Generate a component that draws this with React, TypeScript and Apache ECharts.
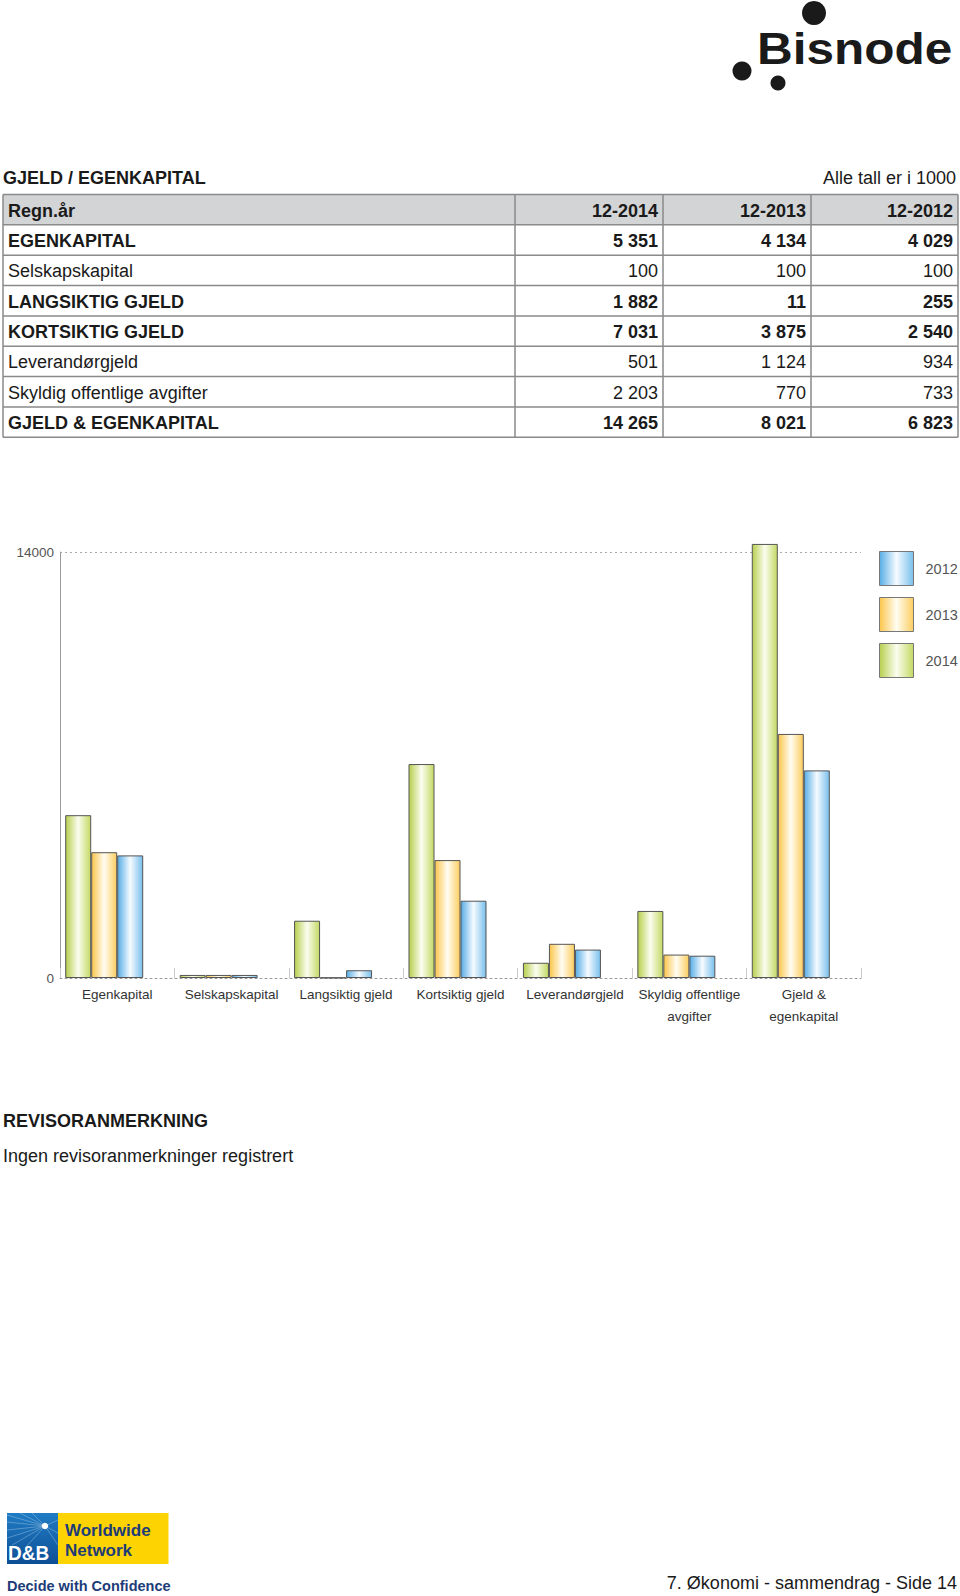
import React, { useEffect, useRef } from 'react';
import * as echarts from 'echarts';

// ---------- data ----------
const categories = [
  'Egenkapital',
  'Selskapskapital',
  'Langsiktig gjeld',
  'Kortsiktig gjeld',
  'Leverandørgjeld',
  'Skyldig offentlige\navgifter',
  'Gjeld &\negenkapital',
];
const tableRows = [
  'EGENKAPITAL',
  'Selskapskapital',
  'LANGSIKTIG GJELD',
  'KORTSIKTIG GJELD',
  'Leverandørgjeld',
  'Skyldig offentlige avgifter',
  'GJELD & EGENKAPITAL',
];
const tableRowBold = [true, false, true, true, false, false, true];
const tableYears = ['12-2014', '12-2013', '12-2012'];
const values2014 = [5351, 100, 1882, 7031, 501, 2203, 14265];
const values2013 = [4134, 100, 11, 3875, 1124, 770, 8021];
const values2012 = [4029, 100, 255, 2540, 934, 733, 6823];
const legendNames = ['2012', '2013', '2014'];
const yMin = 0;
const yMax = 14000;

const FONT = '"Liberation Sans", Arial, Helvetica, sans-serif';
const TS = 18;

const fmt = (n: number) => String(n).replace(/\B(?=(\d{3})+(?!\d))/g, ' ');

const grad = (edgeL: string, mid: string, edgeR: string) =>
  new echarts.graphic.LinearGradient(0, 0, 1, 0, [
    { offset: 0, color: edgeL },
    { offset: 0.5, color: mid },
    { offset: 1, color: edgeR },
  ]);

function txt(text: string, x: number, y: number, size: number, opts: any = {}) {
  return {
    type: 'text',
    x,
    y,
    silent: true,
    style: {
      text,
      fill: opts.fill || '#1a1a1a',
      fontSize: size,
      fontWeight: opts.bold ? 'bold' : 'normal',
      fontFamily: FONT,
      align: opts.align || 'left',
      textAlign: opts.align || 'left',
      verticalAlign: 'middle',
      textVerticalAlign: 'middle',
    },
    ...(opts.extra || {}),
  };
}

function buildGraphics() {
  const els: any[] = [];
  // Bisnode logo
  els.push({ type: 'circle', shape: { cx: 814, cy: 13, r: 12 }, style: { fill: '#1a1a1a' } });
  els.push({ type: 'circle', shape: { cx: 742, cy: 71, r: 9.5 }, style: { fill: '#1a1a1a' } });
  els.push({ type: 'circle', shape: { cx: 778, cy: 83, r: 7.5 }, style: { fill: '#1a1a1a' } });
  els.push(txt('Bisnode', 757, 48, 45, { bold: true, extra: { scaleX: 1.1 } }));

  // title
  els.push(txt('GJELD / EGENKAPITAL', 3, 178, TS, { bold: true }));
  els.push(txt('Alle tall er i 1000', 956, 178, TS, { align: 'right' }));

  // table
  const colX = [3, 515, 663, 811, 958];
  const top = 194.5;
  const rowH = 30.35;
  const nRows = tableRows.length + 1;
  const bottom = top + rowH * nRows;
  els.push({
    type: 'rect',
    shape: { x: colX[0], y: top, width: colX[4] - colX[0], height: rowH },
    style: { fill: '#d3d4d6' },
  });
  for (let r = 0; r <= nRows; r++) {
    const y = top + rowH * r;
    els.push({
      type: 'line',
      shape: { x1: colX[0], y1: y, x2: colX[4], y2: y },
      style: { stroke: '#8a8a8a', lineWidth: 1.5 },
    });
  }
  colX.forEach((x) => {
    els.push({
      type: 'line',
      shape: { x1: x, y1: top, x2: x, y2: bottom },
      style: { stroke: '#8a8a8a', lineWidth: 1.5 },
    });
  });
  const hy = top + rowH / 2 + 1;
  els.push(txt('Regn.år', 8, hy, TS, { bold: true }));
  tableYears.forEach((yr, i) => {
    els.push(txt(yr, colX[i + 2] - 5, hy, TS, { bold: true, align: 'right' }));
  });
  const cols = [values2014, values2013, values2012];
  tableRows.forEach((label, r) => {
    const y = top + rowH * (r + 1) + rowH / 2 + 1;
    const bold = tableRowBold[r];
    els.push(txt(label, 8, y, TS, { bold }));
    cols.forEach((vals, c) => {
      els.push(txt(fmt(vals[r]), colX[c + 2] - 5, y, TS, { bold, align: 'right' }));
    });
  });

  // auditor remark
  els.push(txt('REVISORANMERKNING', 3, 1121, TS, { bold: true }));
  els.push(txt('Ingen revisoranmerkninger registrert', 3, 1155.5, TS));

  // footer
  els.push(txt('7. Økonomi - sammendrag - Side 14', 957, 1583, TS, { align: 'right' }));

  // D&B logo
  els.push({
    type: 'rect',
    shape: { x: 7, y: 1513, width: 51, height: 51 },
    style: {
      fill: new echarts.graphic.LinearGradient(0, 0, 0, 1, [
        { offset: 0, color: '#1f7cc4' },
        { offset: 1, color: '#0d4f96' },
      ]),
    },
  });
  const cx = 45;
  const cy = 1526;
  const rays = [
    [7, 1515], [7, 1522], [7, 1530], [7, 1538], [20, 1513], [32, 1513],
    [58, 1520], [58, 1533], [12, 1545], [25, 1548], [58, 1545],
  ];
  rays.forEach(([x, y]) => {
    els.push({
      type: 'line',
      shape: { x1: cx, y1: cy, x2: x, y2: y },
      style: { stroke: 'rgba(255,255,255,0.35)', lineWidth: 0.8 },
    });
  });
  els.push({ type: 'circle', shape: { cx, cy, r: 3.2 }, style: { fill: '#ffffff' } });
  els.push(txt('D&B', 8, 1553, 20, { bold: true, fill: '#ffffff', extra: { scaleX: 0.95 } }));
  els.push({
    type: 'rect',
    shape: { x: 58, y: 1513, width: 110.5, height: 51 },
    style: { fill: '#fed302' },
  });
  els.push(txt('Worldwide', 65, 1530, 17, { bold: true, fill: '#1d3c78' }));
  els.push(txt('Network', 65, 1550, 17, { bold: true, fill: '#1d3c78' }));
  els.push(txt('Decide with Confidence', 7, 1586, 14.5, { bold: true, fill: '#1d3c78' }));

  return els;
}

const barStyles: Record<string, any> = {
  '2014': { l: '#b6cf4c', m: '#fbfdf0', r: '#c3d963' },
  '2013': { l: '#fbc54a', m: '#fffdf2', r: '#fccd5f' },
  '2012': { l: '#56ade6', m: '#f6fbff', r: '#78bfec' },
};

export default function App() {
  const ref = useRef<HTMLDivElement>(null);
  useEffect(() => {
    if (!ref.current) return;
    const chart = echarts.init(ref.current, undefined, { renderer: 'svg' });
    const mkSeries = (name: string, data: number[]) => ({
      name,
      type: 'bar',
      data,
      barWidth: 26,
      barGap: '0%',
      clip: false,
      itemStyle: {
        color: grad(barStyles[name].l, barStyles[name].m, barStyles[name].r),
        borderColor: '#555555',
        borderWidth: 1,
      },
      emphasis: { disabled: true },
    });
    chart.setOption({
      animation: false,
      textStyle: { fontFamily: FONT },
      grid: { left: 60, top: 552, width: 801, height: 426, containLabel: false },
      legend: {
        data: legendNames,
        orient: 'vertical',
        left: 874,
        top: 546,
        itemWidth: 34,
        itemHeight: 34,
        itemGap: 11,
        icon: 'rect',
        selectedMode: false,
        itemStyle: { borderColor: '#777777', borderWidth: 1 },
        textStyle: { fontSize: 14.5, color: '#555555', fontFamily: FONT, padding: [0, 0, 0, 7] },
      },
      xAxis: {
        type: 'category',
        data: categories,
        axisLine: { show: true, lineStyle: { color: '#9a9a9a', type: [2, 3], width: 1 } },
        axisTick: { show: true, inside: true, length: 10, interval: 0, lineStyle: { color: '#cccccc' } },
        axisLabel: {
          interval: 0,
          color: '#333333',
          fontSize: 13.5,
          lineHeight: 22,
          margin: 5,
          fontFamily: FONT,
        },
      },
      yAxis: {
        type: 'value',
        min: yMin,
        max: yMax,
        interval: yMax - yMin,
        axisLine: { show: true, lineStyle: { color: '#9a9a9a', width: 1 } },
        axisTick: { show: false },
        axisLabel: {
          color: '#555555',
          fontSize: 13.5,
          margin: 6,
          fontFamily: FONT,
          formatter: (v: number) => String(v),
        },
        splitLine: { show: true, showMinLine: false, lineStyle: { color: '#aaaaaa', type: [2, 3] } },
      },
      series: [
        mkSeries('2014', values2014),
        mkSeries('2013', values2013),
        mkSeries('2012', values2012),
        { name: 'spacer', type: 'bar', data: categories.map(() => '-'), barWidth: 26, barGap: '0%' },
      ],
      graphic: { elements: buildGraphics() },
    });
    return () => chart.dispose();
  }, []);
  return (
    <div
      ref={ref}
      style={{ position: 'absolute', left: 0, top: 0, width: 960, height: 1596, background: '#ffffff' }}
    />
  );
}
